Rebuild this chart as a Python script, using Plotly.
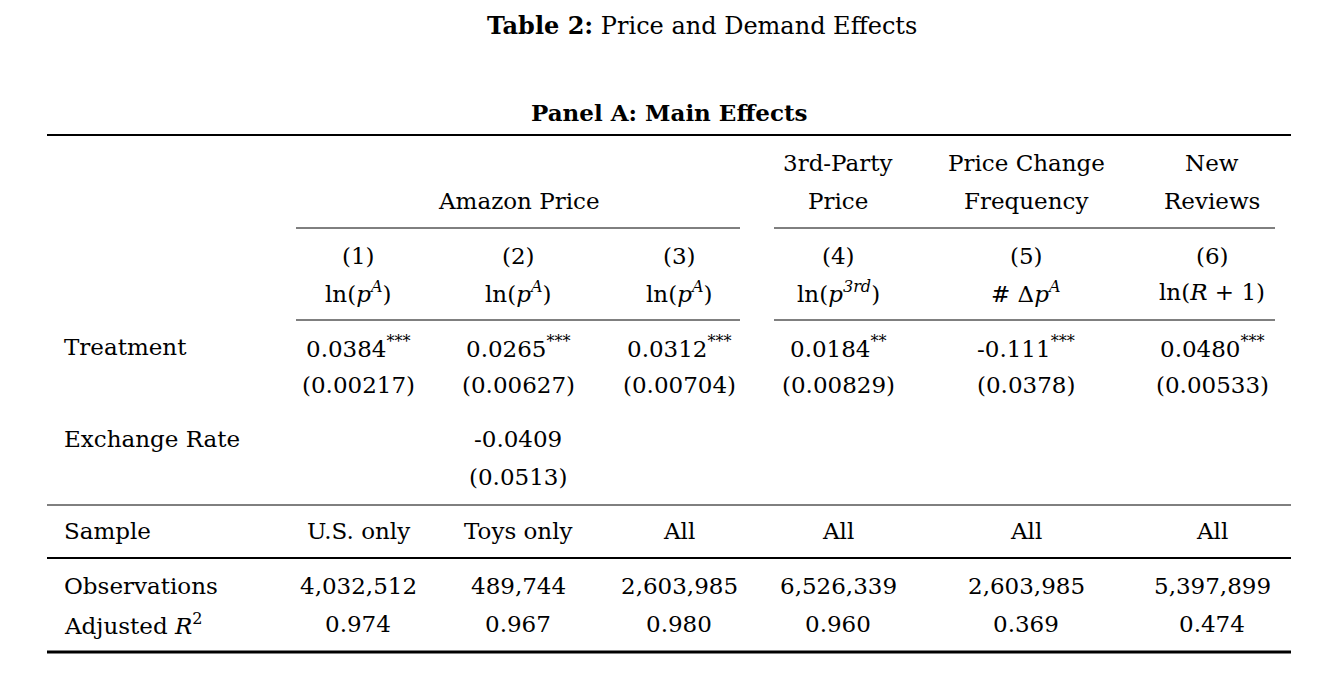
import plotly.graph_objects as go

cols_x = [358, 518, 679, 838, 1026, 1212]
col_nums = ["(1)", "(2)", "(3)", "(4)", "(5)", "(6)"]
dep_vars = ["ln(<i>p</i><sup><i>A</i></sup>)", "ln(<i>p</i><sup><i>A</i></sup>)", "ln(<i>p</i><sup><i>A</i></sup>)",
            "ln(<i>p</i><sup><i>3rd</i></sup>)", "# Δ<i>p</i><sup><i>A</i></sup>", "ln(<i>R</i> + 1)"]
treat_coef = ["0.0384***", "0.0265***", "0.0312***", "0.0184**", "-0.111***", "0.0480***"]
treat_se = ["(0.00217)", "(0.00627)", "(0.00704)", "(0.00829)", "(0.0378)", "(0.00533)"]
fx_coef = ["", "-0.0409", "", "", "", ""]
fx_se = ["", "(0.0513)", "", "", "", ""]
sample = ["U.S. only", "Toys only", "All", "All", "All", "All"]
obs = ["4,032,512", "489,744", "2,603,985", "6,526,339", "2,603,985", "5,397,899"]
adj_r2 = ["0.974", "0.967", "0.980", "0.960", "0.369", "0.474"]

FONT = dict(family="DejaVu Serif, Liberation Serif, serif", size=23, color="black")

fig = go.Figure()
ann = []

def txt(x, y, s, xanchor="center", size=23):
    ann.append(dict(x=x, y=y, text=s, showarrow=False, xanchor=xanchor, yanchor="middle",
                    font=dict(FONT, size=size)))

def stars(s):
    core = s.rstrip("*")
    n = len(s) - len(core)
    return core + ("<sup>" + "*" * n + "</sup>" if n else "")

txt(702, 25, "<b>Table 2:</b> Price and Demand Effects", size=24)
txt(669, 112, "<b>Panel A: Main Effects</b>")

txt(519, 201, "Amazon Price")
txt(838, 163, "3rd-Party"); txt(838, 201, "Price")
txt(1026, 163, "Price Change"); txt(1026, 201, "Frequency")
txt(1212, 163, "New"); txt(1212, 201, "Reviews")

for i, x in enumerate(cols_x):
    txt(x, 256, col_nums[i])
    txt(x, 292, dep_vars[i])
    txt(x, 347, stars(treat_coef[i]))
    txt(x, 385, treat_se[i])
    if fx_coef[i]:
        txt(x, 439, fx_coef[i])
        txt(x, 477, fx_se[i])
    txt(x, 531, sample[i])
    txt(x, 586, obs[i])
    txt(x, 624, adj_r2[i])

for y, s in [(347, "Treatment"), (439, "Exchange Rate"), (531, "Sample"),
             (586, "Observations"), (624, "Adjusted <i>R</i><sup>2</sup>")]:
    txt(62, y, s, xanchor="left")

shapes = []
def hline(x0, x1, y, w):
    shapes.append(dict(type="line", x0=x0, x1=x1, y0=y, y1=y, xref="x", yref="y",
                       line=dict(color="black", width=w)))

hline(47, 1291, 135, 2)
hline(296, 740, 228, 1); hline(774, 1275, 228, 1)
hline(296, 740, 320, 1); hline(774, 1275, 320, 1)
hline(47, 1291, 505, 1)
hline(47, 1291, 558, 2)
hline(47, 1291, 652, 3)

# page body adds ~8px offset, compensate in axis ranges
fig.update_layout(width=1319, height=677, margin=dict(l=0, r=0, t=0, b=0),
                  plot_bgcolor="white", paper_bgcolor="white",
                  xaxis=dict(range=[8, 1327], visible=False, fixedrange=True),
                  yaxis=dict(range=[685, 8], visible=False, fixedrange=True),
                  annotations=ann, shapes=shapes, showlegend=False)
fig.write_html("out.html")
